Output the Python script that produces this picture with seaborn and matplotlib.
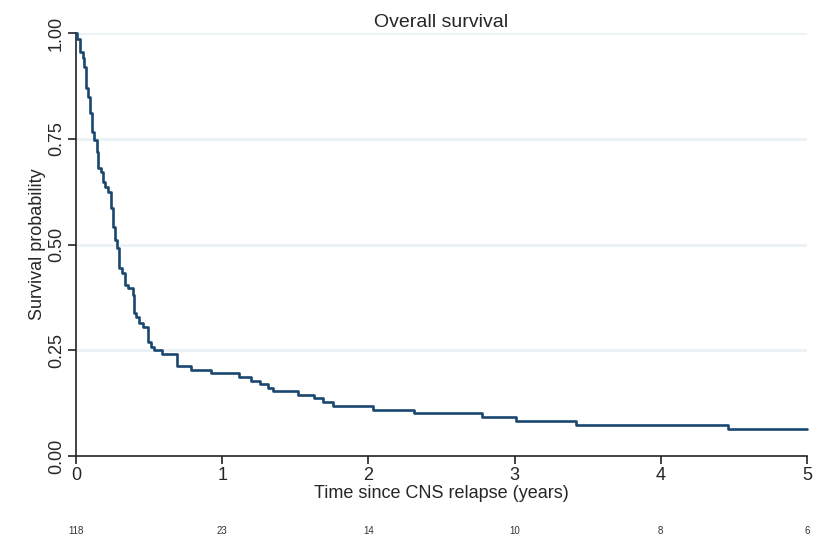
import matplotlib
matplotlib.use("Agg")
import matplotlib.pyplot as plt
import matplotlib.transforms as mtransforms
import seaborn as sns
import pandas as pd

# Kaplan-Meier step function: time (years) at which survival drops, and survival after the drop
km_time = [0.0, 0.005, 0.027, 0.046, 0.055, 0.068, 0.082, 0.096, 0.107, 0.123, 0.142,
           0.150, 0.169, 0.183, 0.198, 0.219, 0.237, 0.251, 0.267, 0.280, 0.294,
           0.313, 0.335, 0.356, 0.388, 0.397, 0.410, 0.431, 0.456, 0.490, 0.510,
           0.535, 0.585, 0.690, 0.790, 0.920, 1.115, 1.200, 1.260, 1.310, 1.350,
           1.520, 1.630, 1.690, 1.760, 2.030, 2.310, 2.780, 3.010, 3.420, 4.460, 5.0]
km_surv = [1.0, 0.985, 0.955, 0.941, 0.920, 0.870, 0.849, 0.811, 0.766, 0.747, 0.719,
           0.681, 0.671, 0.648, 0.636, 0.624, 0.586, 0.541, 0.511, 0.492, 0.444,
           0.433, 0.404, 0.397, 0.381, 0.338, 0.329, 0.314, 0.305, 0.270, 0.258,
           0.250, 0.240, 0.213, 0.203, 0.196, 0.187, 0.177, 0.170, 0.161, 0.154,
           0.144, 0.137, 0.128, 0.118, 0.109, 0.102, 0.092, 0.083, 0.073, 0.064, 0.064]

risk_times = [0, 1, 2, 3, 4, 5]
at_risk = [118, 23, 14, 10, 8, 6]

y_ticks = [0.0, 0.25, 0.5, 0.75, 1.0]
y_ticklabels = ["0.00", "0.25", "0.50", "0.75", "1.00"]

sns.set_theme(style="white")
plt.rcParams["font.family"] = ["Liberation Sans", "DejaVu Sans"]

fig = plt.figure(figsize=(8.25, 5.59), dpi=100)
ax = fig.add_axes([76 / 825, 1 - 456 / 559, (807 - 76) / 825, (456 - 33) / 559])

navy = "#1a476f"
df = pd.DataFrame({"time": km_time, "surv": km_surv})
sns.lineplot(data=df, x="time", y="surv", estimator=None, sort=False,
             drawstyle="steps-post", color=navy, linewidth=1.9, ax=ax,
             zorder=3, clip_on=False)

ax.set_xlim(0, 5)
ax.set_ylim(0, 1)
ax.set_xticks(risk_times)
ax.set_xticklabels([str(t) for t in risk_times], fontsize=13)
ax.set_yticks(y_ticks)
ax.set_yticklabels(y_ticklabels, fontsize=13, rotation=90, va="center")

for yv in y_ticks[1:]:
    ax.axhline(yv, color="#eaf2f3", linewidth=2.0, zorder=1)

for side in ("top", "right"):
    ax.spines[side].set_visible(False)
for side in ("left", "bottom"):
    ax.spines[side].set_color("#222222")
    ax.spines[side].set_linewidth(1.2)
ax.tick_params(axis="both", direction="out", length=6, width=1.2, color="#222222",
               bottom=True, left=True, pad=2)

ax.set_xlabel("Time since CNS relapse (years)", fontsize=13, labelpad=1)
ax.set_ylabel("Survival probability", fontsize=13, labelpad=1)
ax.set_title("Overall survival", fontsize=14, pad=4)

trans = mtransforms.blended_transform_factory(ax.transData, fig.transFigure)
for t, n in zip(risk_times, at_risk):
    ax.text(t, 1 - 531 / 559, str(n), transform=trans, ha="center", va="center",
            fontsize=7, color="#333333")

fig.savefig("out.png", dpi=100)
